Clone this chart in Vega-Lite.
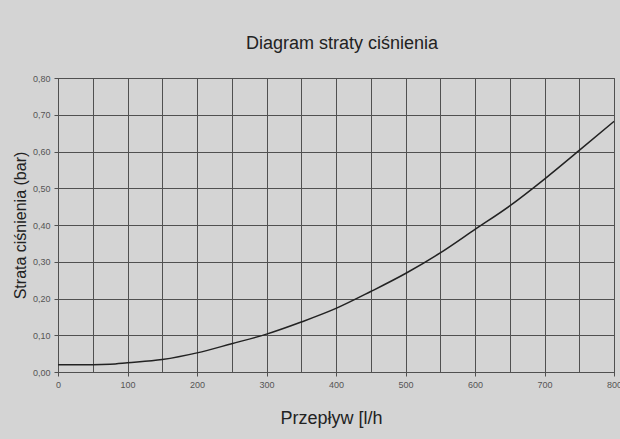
{
  "$schema": "https://vega.github.io/schema/vega-lite/v6.json",
  "width": 556,
  "height": 294,
  "autosize": {"type": "none"},
  "padding": {"left": 58, "top": 78, "right": 6, "bottom": 67},
  "background": "#d4d4d4",
  "title": {
    "text": "Diagram straty ciśnienia",
    "font": "Liberation Sans",
    "fontSize": 18,
    "fontWeight": "normal",
    "color": "#222222",
    "anchor": "middle",
    "baseline": "alphabetic",
    "offset": 7,
    "dx": 6
  },
  "data": {
    "values": [
      {"q": 0, "p": 0.020},
      {"q": 50, "p": 0.020},
      {"q": 75, "p": 0.021},
      {"q": 100, "p": 0.025},
      {"q": 150, "p": 0.034},
      {"q": 200, "p": 0.052},
      {"q": 250, "p": 0.077},
      {"q": 300, "p": 0.103},
      {"q": 350, "p": 0.136},
      {"q": 400, "p": 0.173},
      {"q": 450, "p": 0.219},
      {"q": 500, "p": 0.268},
      {"q": 550, "p": 0.324},
      {"q": 600, "p": 0.388},
      {"q": 650, "p": 0.452},
      {"q": 700, "p": 0.525},
      {"q": 750, "p": 0.603},
      {"q": 800, "p": 0.682}
    ]
  },
  "mark": {"type": "line", "color": "#222222", "strokeWidth": 1.5, "interpolate": "monotone"},
  "encoding": {
    "x": {
      "field": "q",
      "type": "quantitative",
      "scale": {"domain": [0, 800], "nice": false, "zero": true},
      "axis": {
        "title": "Przepływ [l/h",
        "values": [0, 50, 100, 150, 200, 250, 300, 350, 400, 450, 500, 550, 600, 650, 700, 750, 800],
        "labelExpr": "datum.value % 100 === 0 ? format(datum.value, 'd') : ''",
        "tickOpacity": {"condition": {"test": "datum.value % 100 === 0", "value": 1}, "value": 0},
        "labelFlush": false,
        "labelOverlap": false,
        "titleX": 273,
        "titleY": 51,
        "titleBaseline": "alphabetic",
        "titleFontSize": 18
      }
    },
    "y": {
      "field": "p",
      "type": "quantitative",
      "scale": {"domain": [0, 0.8], "nice": false},
      "axis": {
        "title": "Strata ciśnienia (bar)",
        "values": [0, 0.1, 0.2, 0.3, 0.4, 0.5, 0.6, 0.7, 0.8],
        "labelExpr": "replace(format(datum.value, '.2f'), '.', ',')",
        "labelFlush": false,
        "labelOverlap": false,
        "titleX": -30,
        "titleY": 147,
        "titleAngle": 270,
        "titleAlign": "center",
        "titleBaseline": "bottom",
        "titleFontSize": 16
      }
    }
  },
  "config": {
    "view": {"stroke": "#505050", "strokeWidth": 1, "fill": "#d4d4d4"},
    "axis": {
      "grid": true,
      "gridColor": "#505050",
      "gridOpacity": 1,
      "gridWidth": 1,
      "domain": true,
      "domainColor": "#505050",
      "domainWidth": 1,
      "tickColor": "#505050",
      "tickSize": 4,
      "tickWidth": 1,
      "labelFont": "Liberation Sans",
      "labelFontSize": 9,
      "labelColor": "#555555",
      "labelPadding": 4,
      "titleFont": "Liberation Sans",
      "titleFontWeight": "normal",
      "titleColor": "#222222"
    }
  }
}
